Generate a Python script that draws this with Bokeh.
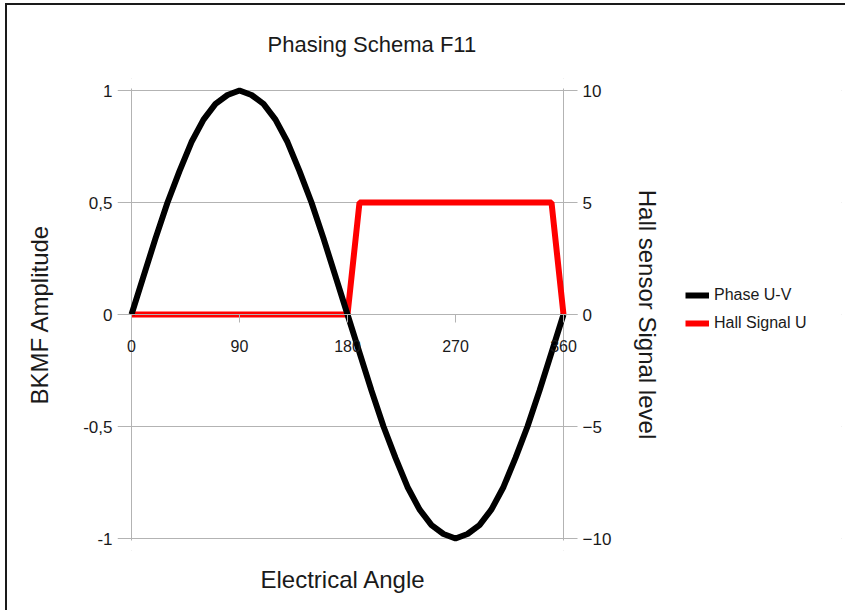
from bokeh.plotting import figure
from bokeh.models import (Range1d, LinearAxis, FixedTicker, Legend, LegendItem,
                          ColumnDataSource, BoxAnnotation, Title)
from bokeh.embed import file_html
from bokeh.resources import INLINE

# ---- data ----
angle = [0, 10, 20, 30, 40, 50, 60, 70, 80, 90, 100, 110, 120, 130, 140, 150, 160, 170, 180,
         190, 200, 210, 220, 230, 240, 250, 260, 270, 280, 290, 300, 310, 320, 330, 340, 350, 360]
phase_uv = [0, 0.17, 0.34, 0.5, 0.64, 0.77, 0.87, 0.94, 0.98, 1, 0.98, 0.94, 0.87, 0.77, 0.64, 0.5, 0.34, 0.17, 0,
            -0.17, -0.34, -0.5, -0.64, -0.77, -0.87, -0.94, -0.98, -1, -0.98, -0.94, -0.87, -0.77, -0.64, -0.5, -0.34, -0.17, 0]
hall_u = [0, 0, 0, 0, 0, 0, 0, 0, 0, 0, 0, 0, 0, 0, 0, 0, 0, 0, 0,
          5, 5, 5, 5, 5, 5, 5, 5, 5, 5, 5, 5, 5, 5, 5, 5, 5, 0]
x_ticks = [0, 90, 180, 270, 360]
x_edges = [0, 360]
left_ticks = [-1, -0.5, 0, 0.5, 1]
left_tick_labels = {-1: "-1", -0.5: "-0,5", 0: "0", 0.5: "0,5", 1: "1"}
right_ticks = [-10, -5, 0, 5, 10]

FONT = "Liberation Sans"
TEXT = "#1a1a1a"
GRID = "#b3b3b3"

src = ColumnDataSource(dict(angle=angle, phase=phase_uv, hall=hall_u))

# geometry: 1.2 px per degree, 224 px per unit of amplitude
PX_PER_DEG = 1.2
PX_PER_UNIT = 224
STUB = 14                      # grid lines stick out this far past 0 and 360
VPAD = 12                      # room above/below so the tick labels are not cut
FRAME_W = 724
FRAME_H = 2 * PX_PER_UNIT + 2 * VPAD
XPAD = STUB / PX_PER_DEG
YPAD = VPAD / PX_PER_UNIT

p = figure(frame_width=FRAME_W, frame_height=FRAME_H,
           x_range=Range1d(-XPAD, -XPAD + FRAME_W / PX_PER_DEG),
           y_range=Range1d(-1 - YPAD, 1 + YPAD),
           output_backend="svg", toolbar_location=None,
           min_border_left=110, min_border_right=4,
           min_border_top=73, min_border_bottom=60)
p.styles = {"border-top": "2px solid #1a1a1a", "border-left": "2px solid #1a1a1a",
            "margin-left": "5px", "margin-top": "3px"}
p.outline_line_color = None
p.background_fill_color = "white"
p.border_fill_color = "white"

p.extra_y_ranges = {"hall": Range1d(-10 - 10 * YPAD, 10 + 10 * YPAD)}

# title
p.title.text = "Phasing Schema F11"
p.title.text_font = FONT
p.title.text_font_size = "22px"
p.title.text_font_style = "normal"
p.title.text_color = TEXT
p.title.align = "left"
p.title.offset = 150
p.title.standoff = 44

# grids, trimmed with white masks to the plot box plus short stubs
p.xgrid.ticker = FixedTicker(ticks=x_edges)
p.xgrid.grid_line_color = GRID
p.ygrid.ticker = FixedTicker(ticks=left_ticks)
p.ygrid.grid_line_color = GRID
EPS = 2 / PX_PER_UNIT
for m in (BoxAnnotation(left=360 + XPAD),
          BoxAnnotation(bottom=1 + EPS),
          BoxAnnotation(top=-1 - EPS)):
    m.fill_color = "white"
    m.fill_alpha = 1
    m.line_color = None
    m.level = "underlay"
    p.add_layout(m)

# x axis crossing at 0
xa = p.xaxis[0]
xa.fixed_location = 0
xa.bounds = (-XPAD, 360 + XPAD)
xa.ticker = FixedTicker(ticks=x_ticks)
xa.axis_line_color = GRID
xa.major_tick_line_color = GRID
xa.major_tick_in = 0
xa.major_tick_out = 8
xa.minor_tick_line_color = None
xa.major_label_text_font = FONT
xa.major_label_text_font_size = "16px"
xa.major_label_text_color = TEXT
xa.major_label_standoff = 17

# x title
xtitle = Title(text="Electrical Angle", align="left", offset=143, vertical_align="top",
               standoff=30, text_font=FONT, text_font_size="24px",
               text_font_style="normal", text_color=TEXT)
p.add_layout(xtitle, "below")

# left axis
ya = p.yaxis[0]
ya.ticker = FixedTicker(ticks=left_ticks)
ya.major_label_overrides = left_tick_labels
ya.axis_line_color = None
ya.major_tick_line_color = None
ya.major_tick_in = 0
ya.major_tick_out = 0
ya.minor_tick_line_color = None
ya.major_label_text_font = FONT
ya.major_label_text_font_size = "17px"
ya.major_label_text_color = TEXT
ya.major_label_standoff = 5
ya.axis_label = "BKMF Amplitude"
ya.axis_label_text_font = FONT
ya.axis_label_text_font_size = "24px"
ya.axis_label_text_font_style = "normal"
ya.axis_label_text_color = TEXT
ya.axis_label_standoff = 27

# right axis, pinned at x = 360
yr = LinearAxis(y_range_name="hall", ticker=FixedTicker(ticks=right_ticks),
                fixed_location=360,
                axis_line_color=None, major_tick_line_color=None,
                major_tick_in=0, major_tick_out=0, minor_tick_line_color=None,
                major_label_text_font=FONT, major_label_text_font_size="17px",
                major_label_text_color=TEXT, major_label_standoff=19,
                axis_label="Hall sensor Signal level", axis_label_standoff=20,
                axis_label_text_font=FONT, axis_label_text_font_size="24px",
                axis_label_text_font_style="normal", axis_label_text_color=TEXT)
p.add_layout(yr, "right")

# series
r_hall = p.line("angle", "hall", source=src, y_range_name="hall",
                line_color="#ff0000", line_width=6)
r_phase = p.line("angle", "phase", source=src,
                 line_color="#000000", line_width=6)

legend = Legend(items=[LegendItem(label="Phase U-V", renderers=[r_phase]),
                       LegendItem(label="Hall Signal U", renderers=[r_hall])],
                location=(568, 217), border_line_color=None, background_fill_alpha=0,
                padding=0, margin=0, spacing=8, glyph_width=24, glyph_height=20,
                label_height=20, label_standoff=5, label_text_font=FONT,
                label_text_font_size="16px", label_text_color=TEXT)
p.add_layout(legend)

open("out.html", "w").write(file_html(p, INLINE))
